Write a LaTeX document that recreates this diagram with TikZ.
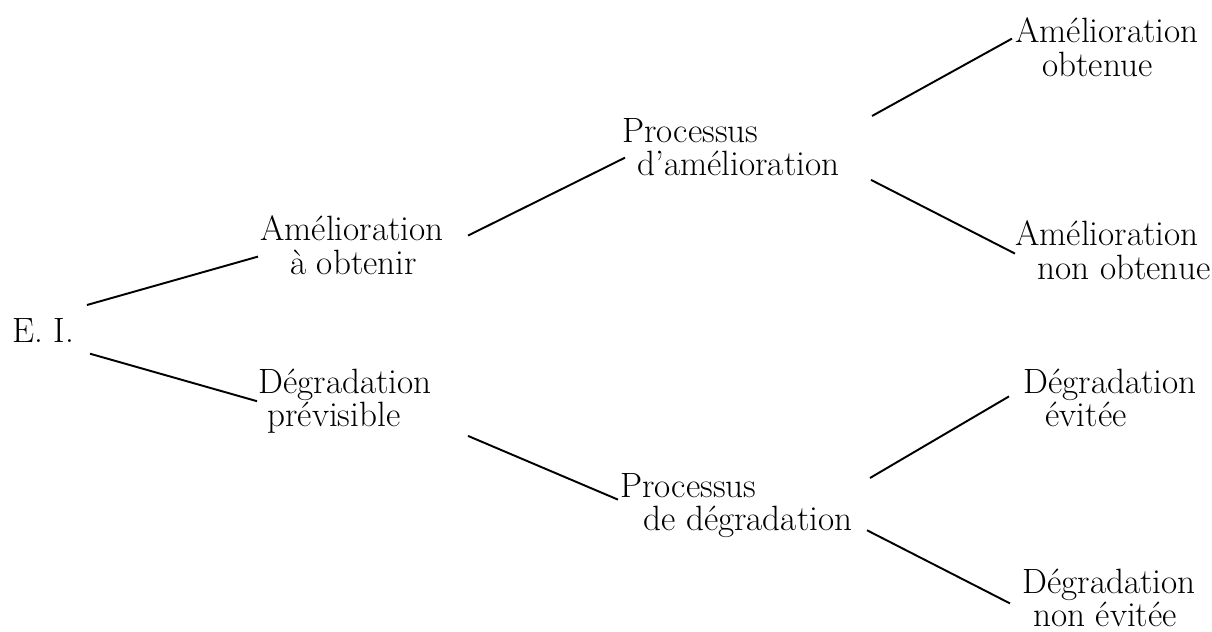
\documentclass[tikz,border=0pt]{standalone}
\usepackage{tikz}

\newcommand{\etiqfont}{\fontsize{20}{19}\selectfont}
\tikzset{
  etiq/.style={inner sep=0pt, anchor=north west, align=left, font=\etiqfont},
  branche/.style={line width=1.1pt}
}

\begin{document}
\begin{tikzpicture}
  \useasboundingbox (0,0) rectangle (24.24,12.64);
  % Étiquettes
  \node[etiq] (ei) at (0.24,6.28) {E. I.};
  \node[etiq] (amelio) at (5.2,8.33) {Amélioration\\\hspace*{0.85em}à obtenir};
  \node[etiq] (degrad) at (5.16,5.27) {Dégradation\\\hspace*{0.26em}prévisible};
  \node[etiq] (procam) at (12.44,10.28) {Processus\\\hspace*{0.43em}d’amélioration};
  \node[etiq] (procdeg) at (12.4,3.18) {Processus\\\hspace*{0.65em}de dégradation};
  \node[etiq] (amob) at (20.3,12.29) {Amélioration\\\hspace*{0.77em}obtenue};
  \node[etiq] (amnon) at (20.3,8.23) {Amélioration\\\hspace*{0.63em}non obtenue};
  \node[etiq] (degev) at (20.46,5.27) {Dégradation\\\hspace*{0.63em}évitée};
  \node[etiq] (degnon) at (20.44,1.27) {Dégradation\\\hspace*{0.31em}non évitée};
  % Branches
  \draw[branche] ([shift={(1.5,0.26)}]ei.north west) -- ([shift={(-0.04,-0.23)}]amelio.west);
  \draw[branche] ([shift={(1.56,-0.22)}]ei.south west) -- ([shift={(-0.02,0)}]degrad.west);
  \draw[branche] ([shift={(4.16,0.19)}]amelio.west) -- ([shift={(0.06,-0.21)}]procam.west);
  \draw[branche] ([shift={(5.0,0.04)}]procam.north west) -- ([shift={(-0.06,0.17)}]amob.west);
  \draw[branche] ([shift={(4.98,-0.07)}]procam.south west) -- ([shift={(0,-0.07)}]amnon.west);
  \draw[branche] ([shift={(4.2,-0.04)}]degrad.south west) -- ([shift={(-0.04,0.12)}]procdeg.west);
  \draw[branche] ([shift={(5.0,-0.1)}]procdeg.north west) -- ([shift={(-0.28,0.03)}]degev.west);
  \draw[branche] ([shift={(4.94,0.16)}]procdeg.south west) -- ([shift={(-0.24,-0.11)}]degnon.west);
\end{tikzpicture}
\end{document}
